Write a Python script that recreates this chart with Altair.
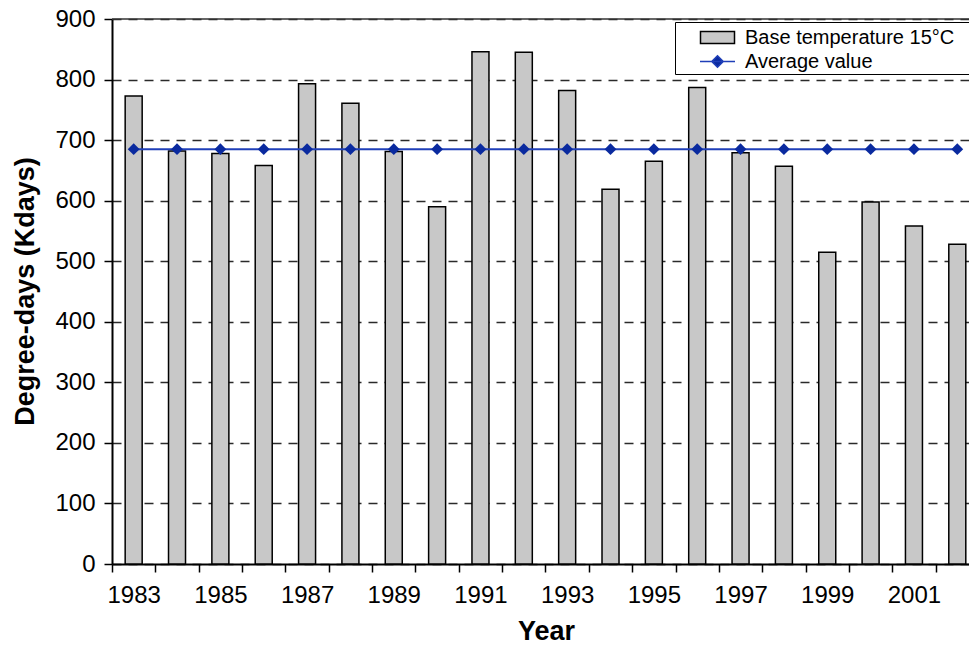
import altair as alt
import pandas as pd

# Heating degree-days per year (base 15 °C) and their long-term average
years = list(range(1983, 2003))
degree_days = [773, 682, 678, 658, 793, 761, 681, 590, 846, 845,
               782, 619, 665, 787, 679, 657, 515, 598, 558, 528]
average_value = 685
series_names = ["Base temperature 15°C", "Average value"]
y_ticks = [0, 100, 200, 300, 400, 500, 600, 700, 800, 900]

FONT = "Liberation Sans"

bars_df = pd.DataFrame({"Year": years, "Kdays": degree_days})
avg_df = pd.DataFrame({
    "Year": years,
    "Kdays": [average_value] * len(years),
    "Series": series_names[1],
})
top_df = pd.DataFrame({"Kdays": [y_ticks[-1]]})

# Category-style x axis: ticks between years, labels on odd years
x_scale = alt.Scale(domain=[years[0] - 0.5, years[-1] + 0.27], nice=False, zero=False, padding=0)
y_scale = alt.Scale(domain=[y_ticks[0], y_ticks[-1]], nice=False, padding=0)

x_axis = alt.Axis(
    values=[years[0] - 0.5 + 0.5 * k for k in range(2 * len(years))],
    labelExpr="datum.value % 2 == 1 ? toString(datum.value) : ''",
    tickOpacity={"condition": {"test": "datum.value % 1 == 0", "value": 0}, "value": 1},
    tickSize=8, tickWidth=1.5, tickColor="black",
    domainColor="black", domainWidth=2,
    labelFontSize=24, labelBaseline="alphabetic", labelPadding=30,
    labelOverlap=False, labelFlush=False,
    grid=False,
    titleFontSize=27, titleFontWeight="bold",
    titleX=434, titleY=75, titleAlign="center", titleBaseline="alphabetic",
)
y_axis = alt.Axis(
    values=y_ticks,
    tickSize=8, tickWidth=1.5, tickColor="black",
    domainColor="black", domainWidth=2,
    labelFontSize=24, labelPadding=9,
    grid=True, gridDash=[9, 7], gridColor="#2a2a2a", gridWidth=1.3,
    titleFontSize=27, titleFontWeight="bold", titleAngle=270,
    titleX=-79, titleY=272, titleAlign="center", titleBaseline="alphabetic",
)

X = alt.X("Year:Q", scale=x_scale, axis=x_axis, title="Year")
Y = alt.Y("Kdays:Q", scale=y_scale, axis=y_axis, title="Degree-days (Kdays)")

# Symbols for the legend: framed grey box and a line crossed by a diamond
rect_path = "M-1.36,-0.48H1.36V0.48H-1.36Z"
avg_path = "M-1.4,0H1.4M0,-0.46L0.46,0L0,0.46L-0.46,0Z"

# Trailing spaces (kept by a zero-width space) let the legend frame run
# on past the right edge of the figure
leg = alt.Legend(
    title=None, orient="none", legendX=563, legendY=3, direction="vertical",
    fillColor="white", strokeColor="black", padding=2,
    symbolSize=625, symbolStrokeWidth=1.5, symbolOffset=27, symbolOpacity=1,
    labelFontSize=20, labelFont=FONT, labelColor="black", labelOffset=14,
    labelExpr="datum.label + '\u00a0\u00a0\u00a0\u00a0\u200b'",
    rowPadding=-2, labelLimit=600,
)

top_rule = alt.Chart(top_df).mark_rule(color="#333333", strokeWidth=1.5).encode(y=Y)

bars = alt.Chart(bars_df).mark_bar(
    size=17, fill="#c8c8c8", stroke="black", strokeWidth=1.5
).encode(x=X, y=Y)

avg_line = alt.Chart(avg_df).mark_line(color="#1f3fb8", strokeWidth=2).encode(x=X, y=Y)

avg_points = alt.Chart(avg_df).mark_point(
    shape="diamond", filled=True, size=140, color="#0a2a9f", opacity=1
).encode(x=X, y=Y)

legend_layer = alt.Chart(avg_df).mark_point(filled=True, opacity=0).encode(
    x=X, y=Y,
    fill=alt.Fill("Series:N", scale=alt.Scale(domain=series_names, range=["#c8c8c8", "#0a2a9f"]), legend=leg),
    stroke=alt.Stroke("Series:N", scale=alt.Scale(domain=series_names, range=["#000000", "#1f3fb8"]), legend=leg),
    shape=alt.Shape("Series:N", scale=alt.Scale(domain=series_names, range=[rect_path, avg_path]), legend=leg),
)

chart = alt.layer(top_rule, bars, avg_line, avg_points, legend_layer).properties(
    width=857,
    height=545,
    autosize=alt.AutoSizeParams(type="none"),
    padding={"left": 112, "top": 19, "right": 0, "bottom": 82},
    background="white",
).configure_view(stroke=None).configure_axis(
    labelFont=FONT, titleFont=FONT, labelColor="black", titleColor="black"
)

chart.save("out.html", embed_options={"renderer": "svg", "actions": False})
